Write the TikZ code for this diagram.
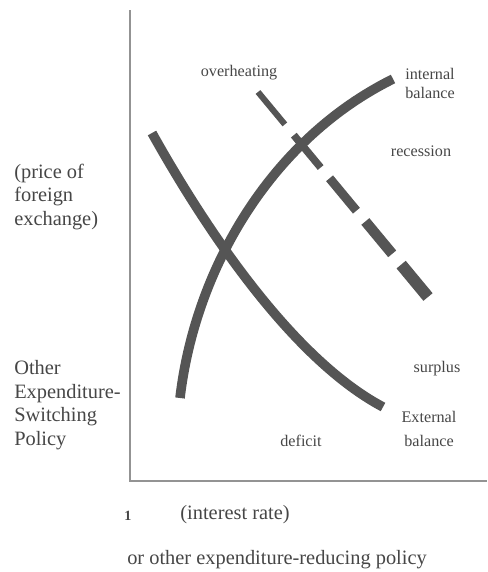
\documentclass[tikz,border=0pt]{standalone}
\usepackage{fontspec}
\setmainfont{Liberation Serif}
\usetikzlibrary{positioning,calc}
\definecolor{curvegray}{RGB}{85,85,85}
\definecolor{textgray}{RGB}{70,70,70}
\tikzset{
  curve/.style={line width=6.8pt, draw=curvegray},
  axis/.style={line width=0.8pt, draw=gray!85},
  smalllabel/.style={font=\fontsize{11.5}{13.5}\selectfont, text=textgray, align=center, inner sep=0pt},
  biglabel/.style={font=\fontsize{14.5}{16.8}\selectfont, text=textgray, align=left, inner sep=0pt}
}
\begin{document}
\begin{tikzpicture}[x=0.025cm, y=-0.025cm]
  \useasboundingbox (0,0) rectangle (487,572);
  % axes
  \coordinate (ytop) at (130,10);
  \coordinate (O) at (130,481);
  \coordinate (xend) at (487,481);
  \draw[axis] (ytop) -- (O) -- (xend);
  % internal balance
  \coordinate (ibA) at (180,398);
  \coordinate (ibB) at (393,79);
  \draw[curve] (ibA) .. controls (195,270) and (270,140) .. (ibB);
  % external balance
  \coordinate (ebA) at (152,133);
  \coordinate (ebB) at (383,407);
  \draw[curve] (ebA) .. controls (195,210) and (285,355) .. (ebB);
  % shifted line, dashes getting thicker
  \coordinate (dA) at (258,92);
  \coordinate (dB) at (428,297);
  \foreach \i/\w in {0/4.3,1/5.3,2/6.4,3/7.4,4/8.5}{
    \pgfmathsetmacro\s{\i*0.2105}
    \pgfmathsetmacro\e{\s+0.158}
    \draw[curvegray, line width=\w pt] ($(dA)!\s!(dB)$) -- ($(dA)!\e!(dB)$);
  }
  % region and curve labels
  \node[smalllabel] (overheat) at (239,73) {overheating};
  \node[smalllabel] (intbal) at (430,83) {internal\\balance};
  \node[smalllabel] (recess) at (421,151) {recession};
  \node[smalllabel] (surplus) at (437,369) {surplus};
  \node[smalllabel] (extbal) at (429,429) {External\\[3pt]balance};
  \node[smalllabel] (deficit) at (301,441) {deficit};
  % axis labels
  \node[biglabel, anchor=west] (ylab) at (14,197) {(price of\\foreign\\exchange)};
  \node[biglabel, anchor=west] (ylab2) at (14,405) {Other\\Expenditure-\\Switching\\Policy};
  \node[font=\fontsize{10}{12}\selectfont\bfseries, text=textgray, inner sep=0pt] (xnum) at (128,516) {1};
  \node[biglabel] (xlab) at (235,515) {(interest rate)};
  \node[biglabel, anchor=west] (xlab2) at (127,560) {or other expenditure-reducing policy};
\end{tikzpicture}
\end{document}
